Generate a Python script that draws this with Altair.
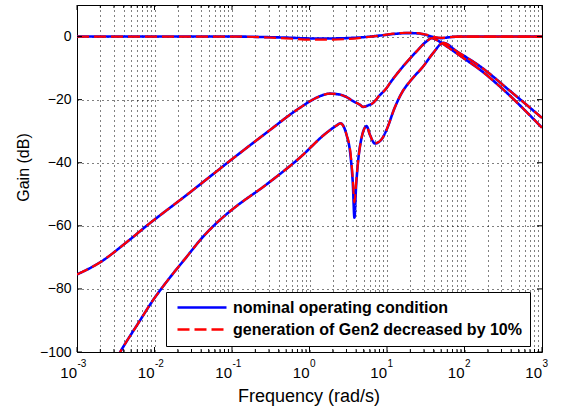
import altair as alt
import pandas as pd

# ---------------- data ----------------
COND = ["nominal operating condition", "generation of Gen2 decreased by 10%"]

# top curve (~0 dB)
FREQ_A = [0.001, 0.01, 0.1, 0.3, 0.6, 1.0, 2.0, 3.0, 5.0, 8.0, 12, 18, 25, 32, 40, 50, 65, 90, 200, 1000]
GAIN_A_NOM = [0, 0, 0, -0.2, -0.4, -0.6, -0.6, -0.5, -0.2, 0.3, 0.8, 1.1, 1.0, 0.5, -0.2, -0.5, -0.2, 0, 0, 0]
GAIN_A_DEC = [0, 0, 0, -0.3, -0.7, -1.0, -1.0, -0.8, -0.3, 0.3, 0.9, 1.2, 1.1, 0.6, -0.1, -0.4, -0.2, 0, 0, 0]
FREQ_A_TAIL = [70, 90, 200, 1000]
GAIN_A_TAIL = [-0.1, 0, 0, 0]

# middle curve
FREQ_B = [0.001, 0.00195, 0.00457, 0.00783, 0.0284, 0.101, 0.278, 0.75, 1.23, 1.83,
          2.46, 3.01, 3.66, 4.47, 4.93, 5.75, 6.64, 7.94, 9.89, 10.9,
          16.2, 24.1, 32.5, 37.7, 44.7, 58.9, 96.6, 158, 316, 1000]
GAIN_B_NOM = [-75.4, -71.7, -64.8, -60.1, -49.5, -38.8, -30.5, -22.6, -19.4, -18.1,
              -18.4, -19.2, -20.5, -21.6, -22.3, -21.8, -21.0, -18.8, -16.3, -14.8,
              -9.4, -4.7, -1.5, -0.5, -1.2, -3.1, -6.8, -10.5, -16.8, -28.9]
GAIN_B_DEC = [-75.4, -71.7, -64.8, -60.1, -49.5, -38.8, -30.5, -22.6, -19.4, -18.1,
              -18.4, -19.2, -20.5, -21.6, -22.3, -21.8, -21.0, -18.8, -16.3, -14.8,
              -9.4, -4.7, -1.5, -0.5, -1.2, -3.1, -6.8, -10.5, -16.8, -28.9]

# lower curve (with notch)
FREQ_C = [0.00316, 0.00361, 0.00631, 0.00962, 0.0149, 0.0251, 0.0422, 0.0652, 0.101, 0.278,
          0.75, 1.66, 2.24, 2.51, 3.01, 3.39, 3.63, 3.80, 3.98, 4.22,
          4.70, 5.45, 6.01, 6.98, 8.51, 9.89, 12.6, 15.8, 19.8, 29.4,
          39.5, 53.2, 79.4, 158, 398, 1000]
GAIN_C_NOM = [-102.5, -100, -90.5, -83.5, -77.2, -70.3, -63.5, -58.8, -54.8, -46.9,
              -38.4, -30.5, -28.2, -27.5, -31.2, -38.0, -47.0, -57.4, -48.0, -40.0,
              -32.1, -28.4, -31.1, -33.9, -32.6, -29.5, -22.5, -17.5, -14.2, -9.4,
              -5.2, -2.0, -4.7, -9.4, -17.5, -25.8]
GAIN_C_DEC = [-102.5, -100, -90.5, -83.5, -77.2, -70.3, -63.5, -58.8, -54.8, -46.9,
              -38.4, -30.5, -28.2, -27.5, -31.2, -37.0, -45.5, -52.6, -47.0, -40.0,
              -32.1, -28.4, -31.1, -33.9, -32.6, -29.5, -22.5, -17.5, -14.2, -9.4,
              -5.2, -2.0, -4.7, -9.4, -17.5, -25.8]

DECADES = [-3, -2, -1, 0, 1, 2, 3]
Y_TICKS = [-100, -80, -60, -40, -20, 0]
X_MAJOR = [0.001, 0.01, 0.1, 1, 10, 100, 1000]
X_MINOR = [m * 10.0 ** k for k in range(-3, 3) for m in range(2, 10)]

# ---------------- tables ----------------
rows = []
def add(freqs, gains, cond, curve):
    for f, g in zip(freqs, gains):
        rows.append({"f": f, "g": g, "cond": cond, "curve": curve})

add(FREQ_A, GAIN_A_NOM, COND[0], "A")
add(FREQ_B, GAIN_B_NOM, COND[0], "B")
add(FREQ_C, GAIN_C_NOM, COND[0], "C")
add(FREQ_A, GAIN_A_DEC, COND[1], "A")
add(FREQ_B, GAIN_B_DEC, COND[1], "B")
add(FREQ_C, GAIN_C_DEC, COND[1], "C")
df = pd.DataFrame(rows)
tail = pd.DataFrame({"f": FREQ_A_TAIL, "g": GAIN_A_TAIL})

W, H = 465, 347
FONT = "Liberation Sans"

xscale = alt.Scale(type="log", domain=[0.001, 1000], nice=False)
yscale = alt.Scale(domain=[-100, 10], nice=False, zero=False)
cscale = alt.Scale(domain=COND, range=["#0000ff", "#ff0000"])
dscale = alt.Scale(domain=COND, range=[[1, 0], [12, 5]])

x_axis = alt.Axis(values=X_MAJOR + X_MINOR, labels=False, ticks=False, domain=False,
                  grid=True, gridColor="#000000", gridDash=[1, 4], gridOpacity=1,
                  title="Frequency (rad/s)", titleFont=FONT, titleFontSize=18,
                  titleFontWeight="normal", titleColor="#000000",
                  titleX=W / 2 - 1, titleY=49, titleBaseline="alphabetic")
y_axis = alt.Axis(values=Y_TICKS, ticks=False, domain=False, labelPadding=6,
                  labelFont=FONT, labelFontSize=14, labelColor="#000000",
                  grid=True, gridColor="#000000", gridDash=[1, 4], gridOpacity=1,
                  title="Gain (dB)", titleFont=FONT, titleFontSize=16,
                  titleFontWeight="normal", titleColor="#000000",
                  titleX=-49, titleY=162, titleAngle=270, titleAlign="center",
                  titleBaseline="alphabetic")

legend = alt.Legend(title=None)

X = alt.X("f:Q", scale=xscale)
Y = alt.Y("g:Q", scale=yscale)

blue = alt.Chart(df).transform_filter(alt.datum.cond == COND[0]).mark_line(
    strokeWidth=2.6, clip=True, interpolate="monotone"
).encode(
    x=alt.X("f:Q", scale=xscale, axis=x_axis),
    y=alt.Y("g:Q", scale=yscale, axis=y_axis),
    color=alt.Color("cond:N", scale=cscale, legend=legend),
    strokeDash=alt.StrokeDash("cond:N", scale=dscale, legend=legend),
    detail="curve:N",
)

red = alt.Chart(df).transform_filter(alt.datum.cond == COND[1]).mark_line(
    strokeWidth=2.2, clip=True, interpolate="monotone"
).encode(
    x=X, y=Y,
    color=alt.Color("cond:N", scale=cscale, legend=legend),
    strokeDash=alt.StrokeDash("cond:N", scale=dscale, legend=legend),
    detail="curve:N",
)

red_tail = alt.Chart(tail).mark_line(strokeWidth=2.2, clip=True, color="#ff0000").encode(
    x=X, y=Y,
)

# inward ticks (MATLAB style)
maj = pd.DataFrame({"f": X_MAJOR})
mnr = pd.DataFrame({"f": X_MINOR})
yt = pd.DataFrame({"g": Y_TICKS})
tick_style = dict(color="#000000", strokeWidth=1)

def xticks(data, length):
    bottom = alt.Chart(data).mark_rule(**tick_style).encode(
        x=X, y=alt.value(H), y2=alt.value(H - length))
    top = alt.Chart(data).mark_rule(**tick_style).encode(
        x=X, y=alt.value(0), y2=alt.value(length))
    return [bottom, top]

yticks_left = alt.Chart(yt).mark_rule(**tick_style).encode(
    y=Y, x=alt.value(0), x2=alt.value(5))
yticks_right = alt.Chart(yt).mark_rule(**tick_style).encode(
    y=Y, x=alt.value(W - 5), x2=alt.value(W))

# x tick labels 10^k as base + superscript
lab = pd.DataFrame({"f": [10.0 ** k for k in DECADES], "base": ["10"] * len(DECADES),
                    "exp": [str(k) for k in DECADES]})
base_txt = alt.Chart(lab).mark_text(align="right", baseline="alphabetic", font=FONT,
                                    fontSize=15, color="#000000").encode(
    x=X, y=alt.value(H + 26), text="base:N")
exp_txt = alt.Chart(lab).mark_text(align="left", baseline="alphabetic", font=FONT,
                                   fontSize=10, color="#000000", dx=0.5).encode(
    x=X, y=alt.value(H + 15), text="exp:N")

chart = alt.layer(
    blue, red, red_tail,
    *xticks(maj, 5), *xticks(mnr, 3), yticks_left, yticks_right,
    base_txt, exp_txt,
).properties(
    width=W, height=H,
    padding={"left": 77, "top": 5, "right": 20, "bottom": 60},
    autosize=alt.AutoSizeParams(type="none"),
    background="white",
).configure_view(
    stroke="#000000", strokeWidth=1
).configure_legend(
    orient="none", legendX=89, legendY=287, direction="vertical",
    padding=8, strokeColor="#000000", fillColor="#ffffff", strokeWidth=1,
    cornerRadius=0, symbolType="stroke", symbolSize=2401, symbolStrokeWidth=2.5,
    clipHeight=15, rowPadding=5, labelFont=FONT, labelFontSize=16,
    labelFontWeight="bold", labelColor="#000000", labelLimit=500, labelOffset=5,
    symbolOffset=2,
)

chart.save("out.html", embed_options={"renderer": "svg", "actions": False})
